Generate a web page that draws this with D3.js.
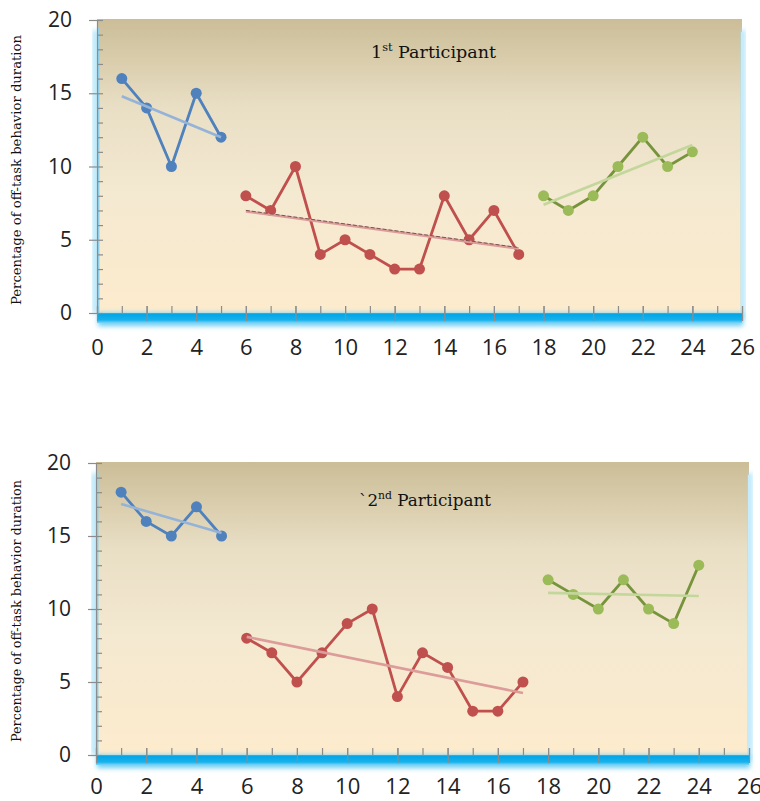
<!DOCTYPE html>
<html>
<head>
<meta charset="utf-8">
<script src="https://cdn.jsdelivr.net/npm/d3@7"></script>
<style>
body { margin: 0; background: #fff; }
svg { display: block; }
</style>
</head>
<body>
<svg id="chart" width="760" height="801"></svg>
<script>

/* session numbers of each phase */
var sessionsA = [1, 2, 3, 4, 5];
var sessionsB = [6, 7, 8, 9, 10, 11, 12, 13, 14, 15, 16, 17];
var sessionsC = [18, 19, 20, 21, 22, 23, 24];

/* 1st participant */
var p1PhaseA = [16, 14, 10, 15, 12];
var p1PhaseB = [8, 7, 10, 4, 5, 4, 3, 3, 8, 5, 7, 4];
var p1PhaseC = [8, 7, 8, 10, 12, 10, 11];

/* 2nd participant */
var p2PhaseA = [18, 16, 15, 17, 15];
var p2PhaseB = [8, 7, 5, 7, 9, 10, 4, 7, 6, 3, 3, 5];
var p2PhaseC = [12, 11, 10, 12, 10, 9, 13];

var yTicks = [0, 5, 10, 15, 20];
var xTicks = [0, 2, 4, 6, 8, 10, 12, 14, 16, 18, 20, 22, 24, 26];
var yLabel = 'Percentage of off-task behavior duration';

var phaseStyle = [
    {line: '#4f81bd', dot: '#4f81bd', trend: '#95b3d7'},
    {line: '#c0504d', dot: '#c0504d', trend: '#dc9c9a'},
    {line: '#77933c', dot: '#9bbb59', trend: '#c3d69b'}
];

var svg = d3.select('#chart');
var defs = svg.append('defs');

var bg = defs.append('linearGradient')
    .attr('id', 'plotBg')
    .attr('x1', 0).attr('y1', 0).attr('x2', 0).attr('y2', 1);
bg.append('stop').attr('offset', '0%').attr('stop-color', '#cbbd97');
bg.append('stop').attr('offset', '30%').attr('stop-color', '#e9dfc5');
bg.append('stop').attr('offset', '60%').attr('stop-color', '#f4e9d1');
bg.append('stop').attr('offset', '100%').attr('stop-color', '#fdebcd');

var floor = defs.append('linearGradient')
    .attr('id', 'floorBg')
    .attr('x1', 0).attr('y1', 0).attr('x2', 0).attr('y2', 1);
floor.append('stop').attr('offset', '0%').attr('stop-color', '#00a3e4');
floor.append('stop').attr('offset', '70%').attr('stop-color', '#16b2ee');
floor.append('stop').attr('offset', '100%').attr('stop-color', '#7fd3f4');

defs.append('filter').attr('id', 'glow')
    .attr('x', '-20%').attr('y', '-50%').attr('width', '140%').attr('height', '200%')
    .append('feGaussianBlur').attr('stdDeviation', 2.5);

function fit(xs, ys) {
    var mx = d3.mean(xs), my = d3.mean(ys);
    var sxy = d3.sum(xs, function(x, i) { return (x - mx) * (ys[i] - my); });
    var sxx = d3.sum(xs, function(x) { return (x - mx) * (x - mx); });
    var b = sxy / sxx;
    return function(x) { return my + b * (x - mx); };
}

function drawChart(cfg) {
    var x = d3.scaleLinear().domain([0, 26]).range([cfg.left, cfg.right]);
    var y = d3.scaleLinear().domain([0, 20]).range([cfg.bottom, cfg.top]);
    var g = svg.append('g');

    // plot wall
    g.append('rect')
        .attr('x', x(0)).attr('y', y(20) - 1)
        .attr('width', x(26) - x(0)).attr('height', y(0) - y(20) + 1)
        .attr('fill', 'url(#plotBg)');

    // right wall glow
    g.append('rect')
        .attr('x', x(26) - 1).attr('y', y(20) + 10)
        .attr('width', 4).attr('height', y(0) - y(20) - 4)
        .attr('fill', '#9fe0fb').attr('filter', 'url(#glow)');
    g.append('rect')
        .attr('x', x(26) - 1).attr('y', y(20) + 12)
        .attr('width', 2).attr('height', y(0) - y(20) - 10)
        .attr('fill', '#c6ecfb');

    // left wall
    g.append('rect')
        .attr('x', x(0) - 4).attr('y', y(20) + 10)
        .attr('width', 5).attr('height', y(0) - y(20) - 10)
        .attr('fill', '#a7e1f8').attr('filter', 'url(#glow)');
    g.append('rect')
        .attr('x', x(0)).attr('y', y(20) + 8)
        .attr('width', 2.5).attr('height', y(0) - y(20) - 8)
        .attr('fill', '#8fd3f0');

    // floor
    g.append('rect')
        .attr('x', x(0) + 1).attr('y', y(0))
        .attr('width', x(26) - x(0)).attr('height', 13)
        .attr('fill', '#6ccdf3').attr('filter', 'url(#glow)');
    g.append('rect')
        .attr('x', x(0)).attr('y', y(0))
        .attr('width', x(26) - x(0)).attr('height', 10)
        .attr('fill', 'url(#floorBg)');

    // axes
    var yMinor = g.append('g')
        .attr('transform', 'translate(' + x(0) + ',0)')
        .call(d3.axisLeft(y).tickValues(d3.range(0, 21)).tickSize(-6).tickFormat(''));
    var yMajor = g.append('g')
        .attr('transform', 'translate(' + x(0) + ',0)')
        .call(d3.axisLeft(y).tickValues(yTicks).tickSize(8).tickPadding(17).tickSizeOuter(0));
    var xMinor = g.append('g')
        .attr('transform', 'translate(0,' + y(0) + ')')
        .call(d3.axisBottom(x).tickValues(d3.range(0, 27)).tickSize(-7).tickFormat(''));
    var xMajor = g.append('g')
        .attr('transform', 'translate(0,' + y(0) + ')')
        .call(d3.axisBottom(x).tickValues(xTicks).tickSize(8).tickSizeOuter(0));

    [yMinor, xMinor].forEach(function(a) { a.select('.domain').remove(); });
    [yMinor, yMajor, xMinor, xMajor].forEach(function(a) {
        a.selectAll('line').attr('stroke', '#8c8c8c').attr('stroke-width', 1.2);
        a.select('.domain').attr('stroke', '#8c8c8c').attr('stroke-width', 1.2);
    });
    xMajor.selectAll('line').attr('y1', -7);
    yMajor.selectAll('text')
        .attr('font-family', 'Open Sans, sans-serif')
        .attr('font-size', 21).attr('fill', '#222');
    xMajor.selectAll('text')
        .attr('font-family', 'Open Sans, sans-serif')
        .attr('font-size', 22).attr('fill', '#222')
        .attr('y', cfg.xLabelOff).attr('dy', 0);

    // phases
    var line = d3.line()
        .x(function(d) { return x(d[0]); })
        .y(function(d) { return y(d[1]); });

    cfg.phases.forEach(function(vals, k) {
        var xs = cfg.sessions[k];
        var st = phaseStyle[k];
        var pts = xs.map(function(s, i) { return [s, vals[i]]; });
        var f = fit(xs, vals);
        var ends = [xs[0], xs[xs.length - 1]];
        var trend = ends.map(function(s) { return [s, f(s)]; });

        g.append('path')
            .attr('d', line(pts))
            .attr('fill', 'none')
            .attr('stroke', st.line)
            .attr('stroke-width', 2.8)
            .attr('stroke-linejoin', 'round');

        g.selectAll(null)
            .data(pts)
            .enter().append('circle')
                .attr('cx', function(d) { return x(d[0]); })
                .attr('cy', function(d) { return y(d[1]); })
                .attr('r', 5.5)
                .attr('fill', st.dot);

        g.append('path')
            .attr('d', line(trend))
            .attr('fill', 'none')
            .attr('stroke', st.trend)
            .attr('stroke-width', 2.6);

        if (cfg.darkTrend && k === 1) {
            g.append('path')
                .attr('d', line(trend))
                .attr('transform', 'translate(0,-1)')
                .attr('fill', 'none')
                .attr('stroke', '#6b4a48')
                .attr('stroke-width', 0.9)
                .attr('stroke-dasharray', '4,2');
        }
    });

    // title
    var t = g.append('text')
        .attr('x', cfg.titleX).attr('y', cfg.titleY)
        .attr('font-family', 'DejaVu Serif, serif')
        .attr('font-size', 17)
        .attr('textLength', cfg.titleLen)
        .attr('lengthAdjust', 'spacingAndGlyphs')
        .attr('fill', '#111');
    t.append('tspan').text(cfg.titlePre);
    t.append('tspan').attr('font-size', 11).attr('dy', -7).text(cfg.titleSup);
    t.append('tspan').attr('dy', 7).text(' Participant');

    // y label
    g.append('text')
        .attr('transform', 'translate(' + 21 + ',' + cfg.labelY + ') rotate(-90)')
        .attr('text-anchor', 'middle')
        .attr('font-family', 'DejaVu Serif, serif')
        .attr('font-size', 12)
        .attr('textLength', cfg.labelLen)
        .attr('lengthAdjust', 'spacingAndGlyphs')
        .attr('fill', '#111')
        .text(yLabel);
}

drawChart({
    left: 97, right: 742, top: 20, bottom: 313,
    sessions: [sessionsA, sessionsB, sessionsC],
    phases: [p1PhaseA, p1PhaseB, p1PhaseC],
    darkTrend: true, xLabelOff: 42,
    titleX: 371, titleY: 58, titlePre: '1', titleSup: 'st', titleLen: 125,
    labelY: 170, labelLen: 270
});

drawChart({
    left: 96, right: 749, top: 463, bottom: 755,
    sessions: [sessionsA, sessionsB, sessionsC],
    phases: [p2PhaseA, p2PhaseB, p2PhaseC],
    darkTrend: false, xLabelOff: 39,
    titleX: 359, titleY: 506, titlePre: '`2', titleSup: 'nd', titleLen: 132,
    labelY: 611, labelLen: 262
});

</script>
</body>
</html>
